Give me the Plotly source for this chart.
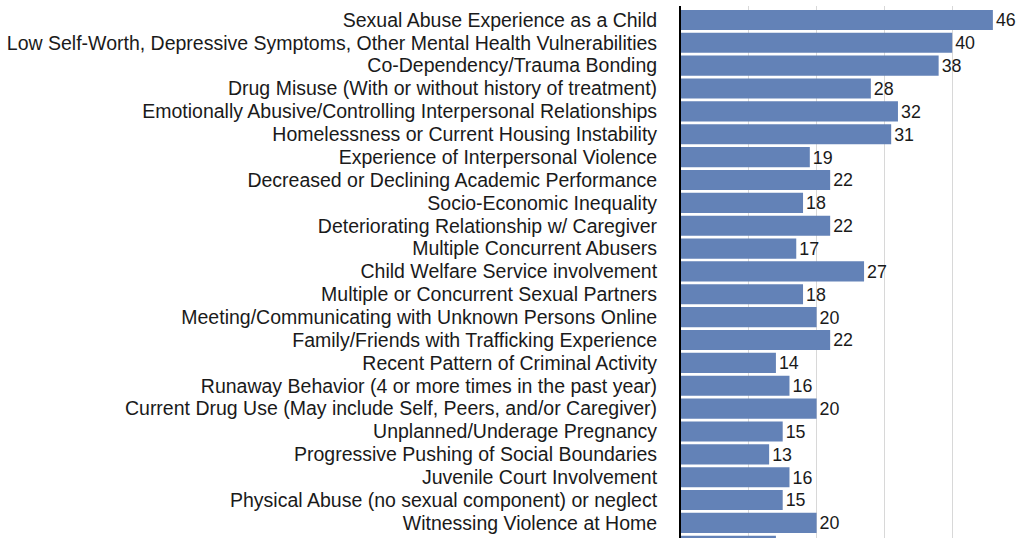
import plotly.graph_objects as go

categories = [
    "Sexual Abuse Experience as a Child",
    "Low Self-Worth, Depressive Symptoms, Other Mental Health Vulnerabilities",
    "Co-Dependency/Trauma Bonding",
    "Drug Misuse (With or without history of treatment)",
    "Emotionally Abusive/Controlling Interpersonal Relationships",
    "Homelessness or Current Housing Instability",
    "Experience of Interpersonal Violence",
    "Decreased or Declining Academic Performance",
    "Socio-Economic Inequality",
    "Deteriorating Relationship w/ Caregiver",
    "Multiple Concurrent Abusers",
    "Child Welfare Service involvement",
    "Multiple or Concurrent Sexual Partners",
    "Meeting/Communicating with Unknown Persons Online",
    "Family/Friends with Trafficking Experience",
    "Recent Pattern of Criminal Activity",
    "Runaway Behavior (4 or more times in the past year)",
    "Current Drug Use (May include Self, Peers, and/or Caregiver)",
    "Unplanned/Underage Pregnancy",
    "Progressive Pushing of Social Boundaries",
    "Juvenile Court Involvement",
    "Physical Abuse (no sexual component) or neglect",
    "Witnessing Violence at Home",
    "(next item, cut off)",
]
values = [46, 40, 38, 28, 32, 31, 19, 22, 18, 22, 17, 27, 18, 20, 22, 14, 16, 20, 15, 13, 16, 15, 20, 14]
labels = [str(v) for v in values]
labels[-1] = ""

FONT = "Liberation Sans"
FS = 19.5

fig = go.Figure(go.Bar(
    x=values, y=categories, orientation="h",
    marker=dict(color="#6382b7", line=dict(width=0)),
    text=labels, textposition="outside", cliponaxis=False,
    textfont=dict(size=FS, color="#1a1a1a", family=FONT),
))

fig.update_layout(
    width=1020, height=538,
    margin=dict(l=681, r=0, t=6, b=0),
    paper_bgcolor="white", plot_bgcolor="white",
    bargap=0.12, showlegend=False,
    font=dict(family=FONT, size=FS, color="#1a1a1a"),
)
fig.update_xaxes(range=[0, 50], dtick=10, showgrid=True, gridcolor="#d8d8d8", gridwidth=1,
                 showticklabels=False, zeroline=False, showline=False, ticks="")
fig.update_yaxes(type="category", range=[22.66, -0.61], showline=True, linecolor="black", linewidth=2,
                 tickmode="array", tickvals=categories[:-1], ticktext=categories[:-1],
                 ticks="outside", ticklen=18, tickcolor="rgba(0,0,0,0)",
                 tickfont=dict(size=FS, color="#1a1a1a", family=FONT), showgrid=False)

fig.write_html("out.html", config={"displayModeBar": False},
               post_script="document.body.style.margin='0';document.body.style.overflow='hidden';")
